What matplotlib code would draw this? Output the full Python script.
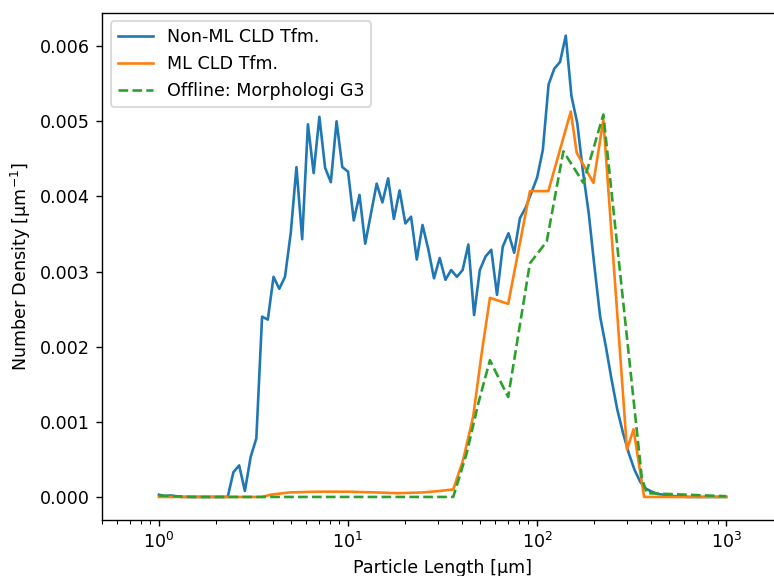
import numpy as np
import matplotlib
matplotlib.use("Agg")
import matplotlib.pyplot as plt

# Non-ML CLD transform, 100 log-spaced bins from 1 to 1000 um
nonml_x = np.logspace(0, 3, 100)
nonml_y = [
    0.00003, 0.00001, 0.00002, 0.00001, 0.0, 0.0, 0.0, 0.0, 0.0, 0.0,
    0.0, 0.0, 0.0, 0.00033, 0.00042, 0.00008, 0.00053, 0.00078, 0.0024, 0.00236,
    0.00293, 0.00277, 0.00293, 0.00351, 0.00439, 0.00343, 0.00496, 0.00431, 0.00506, 0.00438,
    0.00419, 0.0050, 0.00439, 0.00433, 0.00368, 0.00402, 0.00337, 0.00377, 0.00417, 0.00392,
    0.00424, 0.0037, 0.00408, 0.00364, 0.00373, 0.00316, 0.00362, 0.0033, 0.00291, 0.00318,
    0.00289, 0.00302, 0.00293, 0.00302, 0.00336, 0.00242, 0.00302, 0.0032, 0.00329, 0.00269,
    0.00333, 0.00351, 0.00325, 0.00371, 0.00385, 0.00405, 0.00425, 0.00462, 0.00549, 0.0057,
    0.00579, 0.00614, 0.00533, 0.00498, 0.00433, 0.00378, 0.00307, 0.0024, 0.002, 0.00156,
    0.00116, 0.00085, 0.00058, 0.00036, 0.0002, 0.00011, 0.00007, 0.00004, 0.00003, 0.00002,
    0.00001, 0.00001, 0.0, 0.0, 0.0, 0.0, 0.0, 0.0, 0.0, 0.0,
]

# ML CLD transform
ml_x = [1.0, 3.5, 3.9, 4.9, 7.0, 10.0, 14.0, 18.3, 25.0, 30.6, 36.0, 40.6, 45.9, 50.9,
        56.3, 70.3, 91.6, 114.6, 150.7, 162.0, 198.5, 224.0, 298.7, 323.6, 368.0, 1000.0]
ml_y = [0.0, 0.0, 0.00003, 0.00006, 0.00007, 0.00007, 0.00006, 0.00005, 0.00006, 0.00008,
        0.0001, 0.00049, 0.00107, 0.00191, 0.00265, 0.00257, 0.00407, 0.00407, 0.00513, 0.00458,
        0.00418, 0.00502, 0.00063, 0.0009, 0.0, 0.0]

# Offline Morphologi G3
g3_x = [1.0, 1.2, 1.5, 36.0, 42.4, 48.8, 56.3, 70.3, 91.6, 112.4, 137.6, 175.7, 224.0,
        358.0, 380.0, 1000.0]
g3_y = [0.00002, 0.00001, 0.0, 0.0, 0.00058, 0.00124, 0.00182, 0.00133, 0.00311, 0.0034,
        0.0046, 0.00418, 0.00509, 0.00025, 0.00005, 0.00001]

fig = plt.figure(figsize=(774 / 126, 576 / 126), dpi=126)
# right edge of the axes sits just outside the canvas, as in the cropped original
ax = fig.add_axes([0.1318, 0.0972, 0.880, 0.881])

ax.plot(nonml_x, nonml_y, label='Non-ML CLD Tfm.')
ax.plot(ml_x, ml_y, label='ML CLD Tfm.')
ax.plot(g3_x, g3_y, '--', label='Offline: Morphologi G3')

ax.set_xscale('log')
ax.set_xlim(0.5, 2000)
ax.spines['right'].set_visible(False)
ax.set_xlabel('Particle Length [μm]')
ax.set_ylabel('Number Density [μm$^{-1}$]')
ax.legend(loc='upper left')

fig.savefig('out.png', dpi=126)
